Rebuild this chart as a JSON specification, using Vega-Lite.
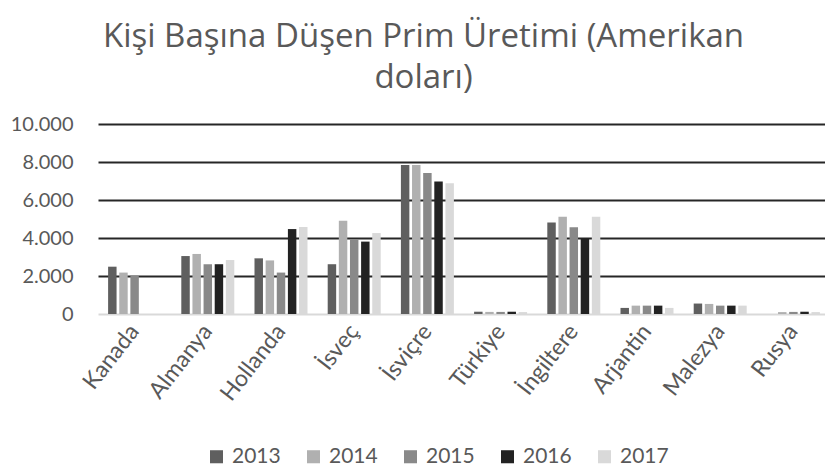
{
  "$schema": "https://vega.github.io/schema/vega-lite/v6.json",
  "autosize": "none",
  "width": 727,
  "height": 190,
  "padding": {"left": 98, "top": 124, "right": 0, "bottom": 160},
  "background": "white",
  "title": {
    "text": ["Kişi Başına Düşen Prim Üretimi (Amerikan", "doları)"],
    "font": "Open Sans",
    "fontSize": 33,
    "fontWeight": "normal",
    "color": "#595959",
    "anchor": "middle",
    "frame": "group",
    "dx": -38,
    "offset": 19,
    "lineHeight": 41
  },
  "data": {
    "values": [
      {"ulke": "Kanada", "yil": "2013", "deger": 2490},
      {"ulke": "Kanada", "yil": "2014", "deger": 2180},
      {"ulke": "Kanada", "yil": "2015", "deger": 2000},
      {"ulke": "Almanya", "yil": "2013", "deger": 3050},
      {"ulke": "Almanya", "yil": "2014", "deger": 3160},
      {"ulke": "Almanya", "yil": "2015", "deger": 2620},
      {"ulke": "Almanya", "yil": "2016", "deger": 2620},
      {"ulke": "Almanya", "yil": "2017", "deger": 2840},
      {"ulke": "Hollanda", "yil": "2013", "deger": 2930},
      {"ulke": "Hollanda", "yil": "2014", "deger": 2820},
      {"ulke": "Hollanda", "yil": "2015", "deger": 2180},
      {"ulke": "Hollanda", "yil": "2016", "deger": 4470},
      {"ulke": "Hollanda", "yil": "2017", "deger": 4580},
      {"ulke": "İsveç", "yil": "2013", "deger": 2620},
      {"ulke": "İsveç", "yil": "2014", "deger": 4910},
      {"ulke": "İsveç", "yil": "2015", "deger": 3930},
      {"ulke": "İsveç", "yil": "2016", "deger": 3810},
      {"ulke": "İsveç", "yil": "2017", "deger": 4260},
      {"ulke": "İsviçre", "yil": "2013", "deger": 7840},
      {"ulke": "İsviçre", "yil": "2014", "deger": 7840},
      {"ulke": "İsviçre", "yil": "2015", "deger": 7420},
      {"ulke": "İsviçre", "yil": "2016", "deger": 6970},
      {"ulke": "İsviçre", "yil": "2017", "deger": 6880},
      {"ulke": "Türkiye", "yil": "2013", "deger": 120},
      {"ulke": "Türkiye", "yil": "2014", "deger": 110},
      {"ulke": "Türkiye", "yil": "2015", "deger": 110},
      {"ulke": "Türkiye", "yil": "2016", "deger": 120},
      {"ulke": "Türkiye", "yil": "2017", "deger": 100},
      {"ulke": "İngiltere", "yil": "2013", "deger": 4810},
      {"ulke": "İngiltere", "yil": "2014", "deger": 5120},
      {"ulke": "İngiltere", "yil": "2015", "deger": 4560},
      {"ulke": "İngiltere", "yil": "2016", "deger": 3980},
      {"ulke": "İngiltere", "yil": "2017", "deger": 5120},
      {"ulke": "Arjantin", "yil": "2013", "deger": 320},
      {"ulke": "Arjantin", "yil": "2014", "deger": 440},
      {"ulke": "Arjantin", "yil": "2015", "deger": 440},
      {"ulke": "Arjantin", "yil": "2016", "deger": 440},
      {"ulke": "Arjantin", "yil": "2017", "deger": 320},
      {"ulke": "Malezya", "yil": "2013", "deger": 550},
      {"ulke": "Malezya", "yil": "2014", "deger": 530},
      {"ulke": "Malezya", "yil": "2015", "deger": 440},
      {"ulke": "Malezya", "yil": "2016", "deger": 440},
      {"ulke": "Malezya", "yil": "2017", "deger": 440},
      {"ulke": "Rusya", "yil": "2014", "deger": 100},
      {"ulke": "Rusya", "yil": "2015", "deger": 110},
      {"ulke": "Rusya", "yil": "2016", "deger": 120},
      {"ulke": "Rusya", "yil": "2017", "deger": 100}
    ]
  },
  "mark": {"type": "bar"},
  "encoding": {
    "x": {
      "field": "ulke",
      "type": "nominal",
      "sort": null,
      "scale": {"range": [0, 732], "paddingInner": 0.276, "paddingOuter": 0.138},
      "axis": {
        "title": null,
        "labelAngle": -52,
        "labelFont": "Lato",
        "labelFontSize": 23,
        "labelColor": "#595959",
        "labelPadding": 13,
        "labelAlign": "right",
        "labelBaseline": "middle",
        "ticks": false,
        "domain": false,
        "grid": false
      }
    },
    "xOffset": {"field": "yil", "type": "nominal", "scale": {"paddingInner": 0.24}},
    "y": {
      "field": "deger",
      "type": "quantitative",
      "scale": {"domain": [0, 10000], "nice": false},
      "axis": {
        "title": null,
        "values": [0, 2000, 4000, 6000, 8000, 10000],
        "labelExpr": "replace(format(datum.value, ','), ',', '.')",
        "labelFont": "Lato",
        "labelFontSize": 20,
        "labelColor": "#595959",
        "labelPadding": 25,
        "ticks": false,
        "domain": false,
        "grid": true,
        "gridWidth": 2,
        "gridColor": {"condition": {"test": "datum.value === 0", "value": "#d9d9d9"}, "value": "#262626"}
      }
    },
    "color": {
      "field": "yil",
      "type": "nominal",
      "scale": {
        "domain": ["2013", "2014", "2015", "2016", "2017"],
        "range": ["#5f5f5f", "#b0b0b0", "#898989", "#222222", "#d9d9d9"]
      },
      "legend": {
        "title": null,
        "orient": "none",
        "direction": "horizontal",
        "legendX": 108,
        "legendY": 322,
        "symbolType": "square",
        "symbolSize": 170,
        "symbolStrokeWidth": 0,
        "labelFont": "Lato",
        "labelFontSize": 21,
        "labelColor": "#595959",
        "columnPadding": 22,
        "labelOffset": 5
      }
    }
  },
  "config": {"view": {"stroke": null}}
}
